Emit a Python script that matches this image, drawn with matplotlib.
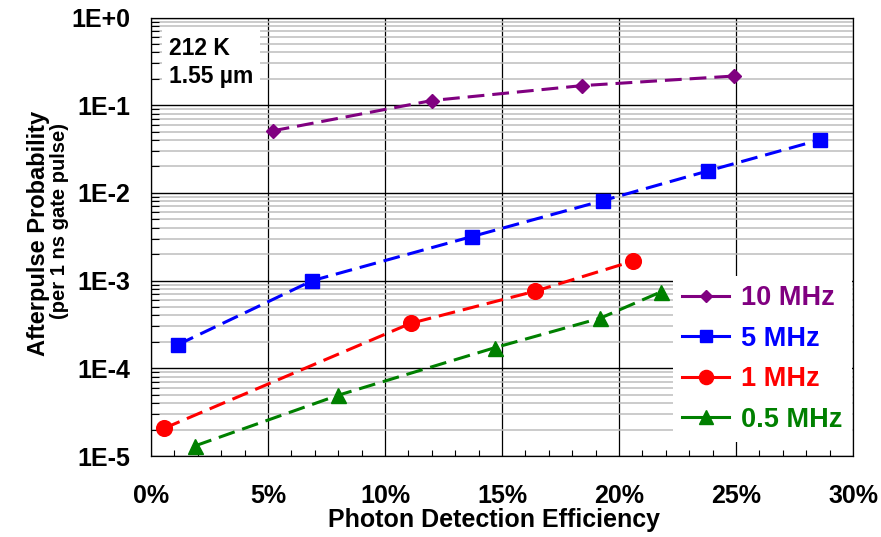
import matplotlib
matplotlib.use("Agg")
import matplotlib.pyplot as plt
from matplotlib.lines import Line2D
from matplotlib.ticker import FixedLocator, LogLocator, NullFormatter

# ---------------- data ----------------
pde_10mhz = [5.2, 12.0, 18.4, 24.9]
ap_10mhz = [0.051, 0.113, 0.167, 0.215]

pde_5mhz = [1.15, 6.9, 13.7, 19.3, 23.8, 28.6]
ap_5mhz = [1.86e-4, 1.0e-3, 3.17e-3, 8.15e-3, 1.78e-2, 4.04e-2]

pde_1mhz = [0.56, 11.1, 16.4, 20.6]
ap_1mhz = [2.07e-5, 3.26e-4, 7.55e-4, 1.67e-3]

pde_05mhz = [1.9, 8.0, 14.7, 19.2, 21.8]
ap_05mhz = [1.31e-5, 4.93e-5, 1.72e-4, 3.73e-4, 7.45e-4]

series_labels = ["10 MHz", "5 MHz", "1 MHz", "0.5 MHz"]
x_ticks = [0, 5, 10, 15, 20, 25, 30]
x_ticklabels = ["0%", "5%", "10%", "15%", "20%", "25%", "30%"]
y_ticks = [1e-5, 1e-4, 1e-3, 1e-2, 1e-1, 1e0]
y_ticklabels = ["1E-5", "1E-4", "1E-3", "1E-2", "1E-1", "1E+0"]

# ---------------- style ----------------
FONT = "Liberation Sans"
plt.rcParams["font.family"] = [FONT, "DejaVu Sans"]
plt.rcParams["font.weight"] = "bold"

colors = ["#800080", "#0000FF", "#FF0000", "#008000"]
markers = ["D", "s", "o", "^"]
msizes = [7, 9.5, 11.3, 10.8]

W, H = 881, 537
fig = plt.figure(figsize=(W / 100, H / 100), dpi=100)
ax = fig.add_axes([151 / W, 1 - 456 / H, (853 - 151) / W, (456 - 17.5) / H])
ax.set_yscale("log")
ax.set_xlim(0, 30)
ax.set_ylim(1e-5, 1)

data = [(pde_10mhz, ap_10mhz), (pde_5mhz, ap_5mhz), (pde_1mhz, ap_1mhz), (pde_05mhz, ap_05mhz)]
for (xs, ys), c, m, ms in zip(data, colors, markers, msizes):
    ax.plot(xs, ys, color=c, lw=2.2, dashes=(5.5, 2.6), marker=m, ms=ms,
            mfc=c, mec=c, zorder=3)

# ticks & grid
ax.set_xticks(x_ticks)
ax.set_xticklabels(x_ticklabels)
ax.xaxis.set_minor_locator(FixedLocator(list(range(0, 31))))
ax.set_yticks(y_ticks)
ax.set_yticklabels(y_ticklabels)
ax.yaxis.set_minor_locator(LogLocator(base=10, subs=[2, 3, 4, 5, 6, 7, 8, 9], numticks=20))
ax.yaxis.set_minor_formatter(NullFormatter())

ax.set_axisbelow(True)
ax.grid(which="major", axis="x", color="black", lw=0.9)
ax.grid(which="major", axis="y", color="black", lw=1.0)
ax.grid(which="minor", axis="y", color="#bdbdbd", lw=1.1)

ax.tick_params(axis="x", which="major", length=0, pad=20, labelsize=18)
ax.tick_params(axis="x", which="minor", direction="in", length=4.5, width=0.8, color="black")
ax.tick_params(axis="y", which="major", length=0, pad=15, labelsize=18)
ax.tick_params(axis="y", which="minor", direction="in", length=6, width=0.8, color="black")
for lab in ax.get_xticklabels() + ax.get_yticklabels():
    lab.set_fontweight("bold")

for s in ax.spines.values():
    s.set_color("black")
    s.set_linewidth(0.9)

# legend
handles = [Line2D([0], [0], color=c, lw=2.2, marker=m, ms=ms * 0.9, mfc=c, mec=c)
           for c, m, ms in zip(colors, markers, msizes)]
leg = fig.legend(handles, series_labels, loc="upper left",
                 bbox_to_anchor=(673 / W, 1 - 276 / H), frameon=True,
                 facecolor="white", edgecolor="none", framealpha=1, fancybox=False,
                 borderpad=0.35, borderaxespad=0, handlelength=1.7,
                 handletextpad=0.45, labelspacing=0.53,
                 prop=dict(family=FONT, weight="bold", size=19.5))
for t, c in zip(leg.get_texts(), colors):
    t.set_color(c)

# annotation box
fig.text(169 / W, 1 - 37 / H, "212 K\n1.55 µm", ha="left", va="top",
         fontsize=16.5, fontweight="bold", linespacing=1.3,
         bbox=dict(boxstyle="square,pad=0.3", fc="white", ec="none"))

# axis labels
fig.text(45 / W, 1 - 233.5 / H, "Afterpulse Probability", rotation=90,
         rotation_mode="anchor", ha="center", va="baseline",
         fontsize=17, fontweight="bold")
fig.text(65 / W, 1 - 221 / H, "(per 1 ns gate pulse)", rotation=90,
         rotation_mode="anchor", ha="center", va="baseline",
         fontsize=14.5, fontweight="bold")
fig.text(494 / W, 1 - 527 / H, "Photon Detection Efficiency", ha="center",
         va="baseline", fontsize=18, fontweight="bold")

fig.savefig("out.png", dpi=100)
